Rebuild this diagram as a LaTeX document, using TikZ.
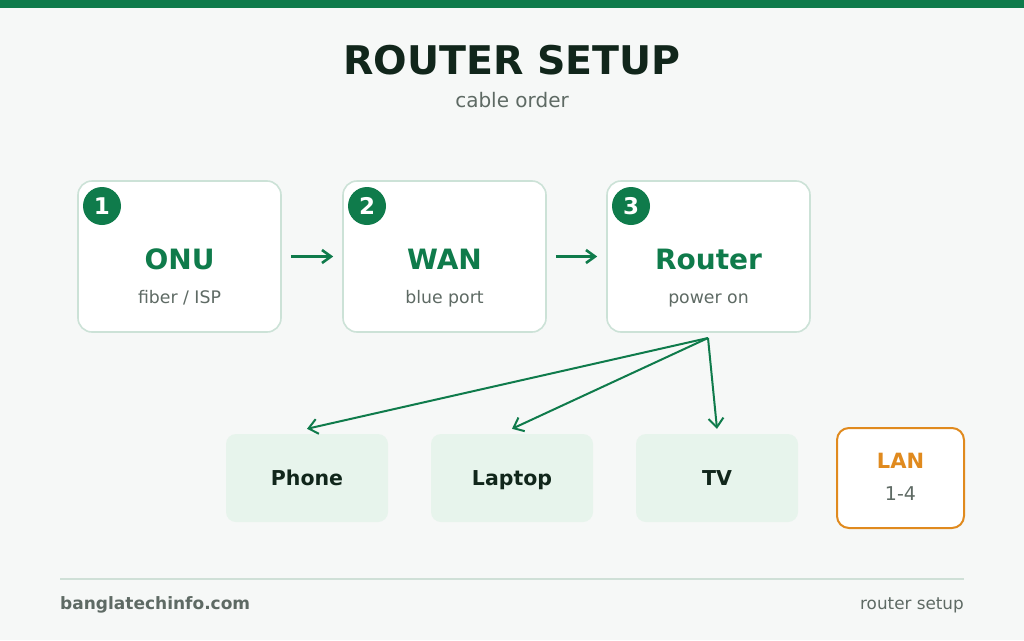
\documentclass[tikz,border=0pt]{standalone}
\usepackage{fontspec}
\setmainfont{DejaVu Sans}
\usetikzlibrary{arrows.meta}
\definecolor{bg}{HTML}{F6F8F7}
\definecolor{brand}{HTML}{0F7B4B}
\definecolor{dark}{HTML}{11261B}
\definecolor{muted}{HTML}{5E6A64}
\definecolor{boxline}{HTML}{CCE2D7}
\definecolor{devfill}{HTML}{E7F4EC}
\definecolor{lan}{HTML}{E08A1E}
\definecolor{rule}{HTML}{CFE0D7}
\newcommand{\fs}[1]{\fontsize{#1}{#1}\selectfont}
\tikzset{
  stepbox/.style={draw=boxline, line width=1.6pt, fill=white, rounded corners=14pt, minimum width=203pt, minimum height=151pt},
  badge/.style={circle, fill=brand, minimum size=38pt, inner sep=0pt, text=white, font=\fs{23}\bfseries},
  steptitle/.style={text=brand, font=\fs{28}\bfseries, inner sep=0pt},
  stepsub/.style={text=muted, font=\fs{17.3}, inner sep=0pt, anchor=base},
  devbox/.style={fill=devfill, rounded corners=10pt, minimum width=162pt, minimum height=88pt, text=dark, font=\fs{20.5}\bfseries, text height=15pt, text depth=0pt},
  flow/.style={draw=brand, line width=2.6pt, -{Straight Barb[length=9pt,width=13pt]}},
  fan/.style={draw=brand, line width=2pt, -{Straight Barb[length=9pt,width=15pt]}}
}
\begin{document}
\begin{tikzpicture}[x=1pt,y=-1pt]
\fill[bg] (0,0) rectangle (1024,640);
\useasboundingbox (0,0) rectangle (1024,640);
\fill[brand] (0,0) rectangle (1024,8);
\node[text=dark, font=\fs{39.5}\bfseries, inner sep=0pt] (title) at (512,60) {ROUTER SETUP};
\node[text=muted, font=\fs{20}, inner sep=0pt] (sub) at (512,100) {cable order};

\node[stepbox] (onu) at (179.5,256.5) {};
\node[stepbox] (wan) at (444.5,256.5) {};
\node[stepbox] (router) at (708.5,256.5) {};

\node[badge] (b1) at (102,206) {1};
\node[badge] (b2) at (367,206) {2};
\node[badge] (b3) at (631,206) {3};

\node[steptitle] (t1) at (179.5,259) {ONU};
\node[stepsub] (s1) at (179.5,303) {fiber / ISP};
\node[steptitle] (t2) at (444.5,259) {WAN};
\node[stepsub] (s2) at (444.5,303) {blue port};
\node[steptitle] (t3) at (708.5,259) {Router};
\node[stepsub] (s3) at (708.5,303) {power on};

\draw[flow] ([xshift=9pt]onu.east) -- ([xshift=-9pt]wan.west);
\draw[flow] ([xshift=9pt]wan.east) -- ([xshift=-9pt]router.west);

\node[devbox] (phone) at (307,478) {Phone};
\node[devbox] (laptop) at (512,478) {Laptop};
\node[devbox] (tv) at (717,478) {TV};

\coordinate (fanout) at (708,338);
\draw[fan] (fanout) -- ([yshift=5pt]phone.north);
\draw[fan] (fanout) -- ([yshift=5pt]laptop.north);
\draw[fan] (fanout) -- ([yshift=5pt]tv.north);

\node[draw=lan, line width=2pt, fill=white, rounded corners=12pt, minimum width=127pt, minimum height=100pt] (lanbox) at (900.5,478) {};
\node[text=lan, font=\fs{21}\bfseries, inner sep=0pt] (lant) at (900.5,461) {LAN};
\node[text=muted, font=\fs{19}, inner sep=0pt] (lans) at (900.5,494) {1-4};

\coordinate (rl) at (60,579);
\coordinate (rr) at (964,579);
\draw[rule, line width=1.5pt] (rl) -- (rr);
\node[text=muted, font=\fs{17}\bfseries, anchor=base west, inner sep=0pt] (site) at (60,609) {banglatechinfo.com};
\node[text=muted, font=\fs{16.8}, anchor=base east, inner sep=0pt] (foot) at (964,609) {router setup};
\end{tikzpicture}
\end{document}
